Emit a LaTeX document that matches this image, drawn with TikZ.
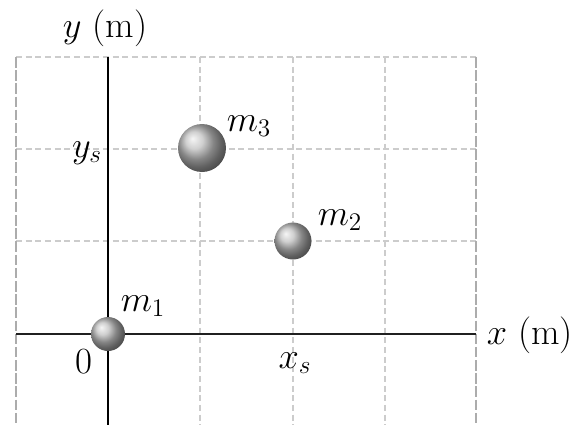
\documentclass[tikz,border=0pt]{standalone}
\begin{document}
\begin{tikzpicture}[x=0.02cm,y=-0.02cm,
  gridline/.style={draw=gray!40,line width=0.9pt,dash pattern=on 3.5pt off 2pt},
  edgeline/.style={draw=gray!65,line width=0.9pt,dash pattern=on 6pt off 1.5pt},
  mass/.style={circle,inner sep=0pt,ball color=gray!50,draw=none},
  lbl/.style={inner sep=0pt,font=\fontsize{21}{25}\selectfont}]
\useasboundingbox (0,0) rectangle (582,427);
% grid
\foreach \gx in {200,293,385} \draw[gridline] (\gx,57) -- (\gx,425);
\foreach \gy in {57,149,241} \draw[gridline] (16,\gy) -- (476,\gy);
\draw[edgeline] (16,57) -- (16,425);
\draw[edgeline] (476,57) -- (476,425);
% axes
\coordinate (xa) at (16,334);
\coordinate (xb) at (476,334);
\coordinate (ya) at (108,57);
\coordinate (yb) at (108,425);
\draw[line width=1.3pt,gray!25!black] (xa) -- (xb);
\draw[line width=1.7pt,black] (ya) -- (yb);
% masses
\node[mass,minimum size=0.68cm] (m1) at (108,334) {};
\node[mass,minimum size=0.74cm] (m2) at (293,241) {};
\node[mass,minimum size=0.96cm] (m3) at (202,148) {};
% labels
\node[lbl] (lm1) at (143,306) {$m_1$};
\node[lbl] (lm2) at (340,220) {$m_2$};
\node[lbl] (lm3) at (249,126) {$m_3$};
\node[lbl] (l0) at (84,362) {0};
\node[lbl] (lys) at (87,153) {$y_s$};
\node[lbl] (lxs) at (295,363) {$x_s$};
\node[lbl] (ylab) at (105,28) {$y$ (m)};
\node[lbl] (xlab) at (530,335) {$x$ (m)};
\end{tikzpicture}
\end{document}
